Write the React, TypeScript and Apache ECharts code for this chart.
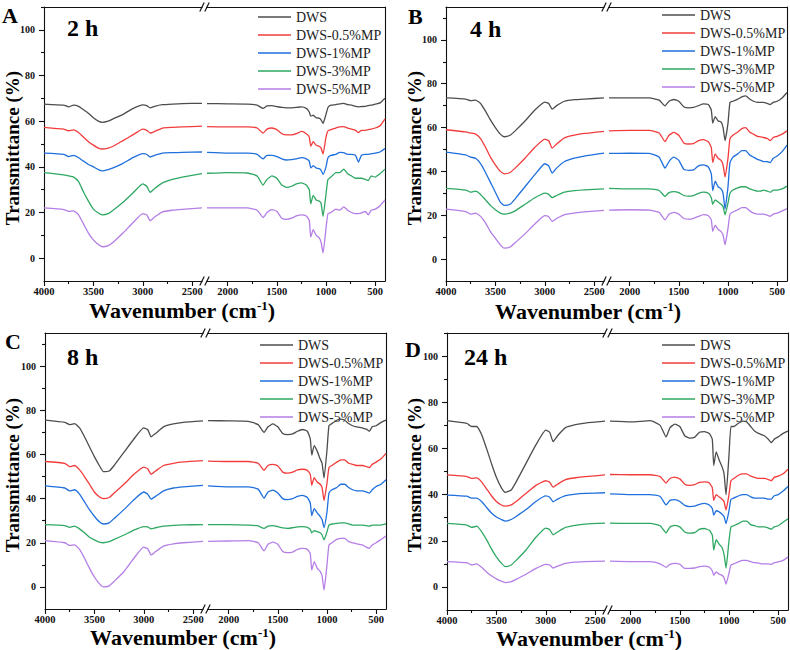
import React, { useEffect, useRef } from 'react';
import * as echarts from 'echarts';

// Wavenumbers (cm-1) sampled on each side of the axis break
const WN_LEFT = [4000, 3800, 3750, 3700, 3650, 3600, 3550, 3500, 3450, 3410, 3350, 3300, 3200, 3100, 3000, 2960, 2925, 2880, 2800, 2700, 2600, 2400];
const WN_RIGHT = [2210, 2000, 1800, 1700, 1640, 1600, 1550, 1500, 1450, 1400, 1350, 1300, 1250, 1200, 1170, 1155, 1130, 1100, 1070, 1050, 1030, 1000, 980, 950, 900, 860, 820, 780, 740, 700, 670, 640, 600, 570, 540, 500, 450, 400];

const SERIES_NAMES = ['DWS', 'DWS-0.5%MP', 'DWS-1%MP', 'DWS-3%MP', 'DWS-5%MP'];
const SERIES_COLORS = ['#4d4d4d', '#f23c3c', '#1f6fdc', '#2ea862', '#b47ee6'];
const PANEL_LETTERS = ['A', 'B', 'C', 'D'];
const PANEL_TIMES = ['2 h', '4 h', '8 h', '24 h'];

const X_TICKS_LEFT = [4000, 3500, 3000, 2500];
const X_MINOR_LEFT = [3750, 3250, 2750];
const X_TICKS_RIGHT = [2000, 1500, 1000, 500];
const X_MINOR_RIGHT = [1750, 1250, 750];
const Y_TICKS = [0, 20, 40, 60, 80, 100];
const Y_MINOR = [10, 30, 50, 70, 90, 110];

// Panel A: 2 h
const A_LEFT = [
  [67.5, 67, 66.3, 67, 66.5, 65, 63.5, 61.5, 60, 59.5, 60, 61, 63, 65.5, 67.1, 66.8, 65.8, 66.5, 67.2, 67.5, 67.7, 67.8],
  [57.3, 56.5, 55.8, 56.2, 55, 53, 51, 49.5, 48.2, 47.8, 48.2, 49, 51.5, 54, 56.5, 56, 54.8, 55.5, 57, 57.3, 57.5, 57.8],
  [46, 45.5, 44.5, 45, 44, 42.5, 41, 40, 38.8, 38.2, 38.8, 39.5, 41.5, 44, 45.8, 45.5, 44.3, 45, 46, 46.2, 46.3, 46.5],
  [37.5, 36.5, 36, 35.5, 33.5, 29, 25, 21.5, 19.8, 19, 19.5, 21, 24.5, 28.5, 32.5, 31.5, 28.8, 30.5, 33, 34.5, 35.5, 37],
  [22, 21.3, 20.5, 20.7, 19, 15, 11, 8, 6, 5, 5.5, 7, 11, 15.5, 19.5, 19, 16.4, 18, 20.3, 21, 21.4, 22],
];
const A_RIGHT = [
  [67.7, 67.6, 67.5, 67, 65.6, 66.7, 66.8, 66.4, 66, 65.8, 65.8, 66, 66.3, 65.6, 64, 62.2, 62.6, 61.5, 61.3, 60.6, 59, 63, 66, 67, 67.2, 67.6, 67.8, 67.2, 67, 66.5, 66.3, 66.4, 66.5, 66.8, 67, 67.5, 68, 70],
  [57.6, 57.5, 57.5, 57, 54.8, 56.5, 57, 56.3, 54.5, 54, 54, 54.5, 55.5, 54.5, 53, 49, 51, 49.5, 49, 48.2, 45.6, 53, 55.8, 56.3, 57, 57.5, 57.6, 57, 56.5, 56, 55, 56, 56, 56.3, 56.5, 57, 58, 61],
  [46.3, 46, 46, 45.5, 43.5, 45, 45, 44.5, 43.5, 43, 43.2, 43.5, 44, 43.5, 42.5, 39.5, 40.5, 39.5, 39.2, 38.5, 36.7, 40, 44, 45, 45.5, 46.3, 46.2, 45.5, 45.5, 45, 42.1, 45, 45.5, 45.5, 45.7, 46, 46.5, 48],
  [37.2, 37.5, 37.3, 36, 32, 34.5, 36, 35, 32, 31, 31.5, 32.5, 33, 32, 30, 23.8, 27.5, 25.5, 25, 24, 18.3, 28, 34.5, 35.5, 37.5, 37.5, 39, 37, 36, 35, 35, 35, 34.5, 34, 36, 35.5, 37, 39],
  [22, 22, 22, 21, 17.8, 20, 21.3, 20.5, 17.5, 17, 17.5, 18.5, 19, 18.5, 16.5, 9.2, 12.5, 10, 9, 7, 2.2, 13, 19.5, 20, 21.5, 21, 22.5, 21, 20, 19.5, 19.5, 19.8, 20.5, 19, 21, 21.5, 23, 25.5],
];

// Panel B: 4 h
const B_LEFT = [
  [73.5, 73, 72.3, 72.5, 71, 67.5, 63.5, 60, 57, 55.8, 56.5, 58.5, 63, 68, 71.6, 71, 68.4, 70, 72, 72.7, 73, 73.5],
  [59, 58, 57.5, 57, 55, 51, 46.5, 43, 40, 38.9, 39.5, 41.5, 46, 51, 54.7, 54, 50.6, 52.5, 55.3, 56.5, 57.3, 58.3],
  [48.8, 47.5, 46.5, 46, 43.5, 39.5, 35, 30.5, 26, 24.5, 25, 27.5, 33, 38.5, 43.5, 42.5, 39.2, 41.5, 44.5, 46, 47, 48.3],
  [32.3, 31.5, 30.5, 31, 29.5, 27, 24.5, 22.5, 21, 20.5, 21, 22, 25, 28, 30.1, 29.5, 28, 29, 30.5, 31.2, 31.6, 32],
  [22.8, 21.7, 20.5, 21, 19.5, 16.5, 12.5, 9.5, 6.5, 5, 5.5, 7.5, 11.5, 16, 19.8, 19.3, 17.2, 18.5, 20.3, 21, 21.5, 22.2],
];
const B_RIGHT = [
  [73.5, 73.5, 73.5, 72.5, 69.9, 72, 72.8, 72, 69.5, 69, 69.2, 70, 70.8, 70.5, 68, 62, 65, 63, 62.5, 60, 54, 62, 71.5, 72, 73, 74, 74.5, 73, 72, 71.5, 71.5, 71.5, 71, 70.5, 71.5, 72, 73.5, 76],
  [58.5, 58.7, 58.7, 57.5, 53.6, 56.5, 57.8, 56.5, 53, 52.5, 52.7, 54, 54.5, 53.5, 51, 44, 48, 46, 45, 43, 37.4, 46, 55, 56.5, 58, 59.5, 60, 58, 57, 56, 55.8, 55.5, 55, 54, 55.5, 56, 57, 58.5],
  [48.2, 48.3, 48.2, 46.5, 41.5, 44.5, 46.5, 45, 41, 40.5, 40.7, 42.5, 43, 42, 39, 31.2, 35.5, 33, 32, 30, 22.8, 33, 44, 46.5, 48, 49.5, 49.5, 47.5, 46.5, 45.5, 45, 44.5, 44.5, 44, 46, 47, 49, 52],
  [32.3, 32, 32, 31.3, 28.6, 30.3, 30.8, 30.3, 29, 28.7, 29, 30, 30.5, 30, 28, 25, 27, 26, 25, 24, 20.2, 25.5, 30, 31.5, 32.5, 33, 33, 32, 31.5, 31, 31, 31.5, 31, 30.5, 31.5, 31.5, 32, 33.3],
  [22.3, 22.5, 22.3, 21.3, 17.9, 20.5, 21.3, 20.5, 18.5, 18.2, 18.6, 19.5, 20.3, 19.8, 18, 12.6, 15.5, 13.5, 12.5, 11, 6.5, 14, 20.5, 21.5, 22.5, 23.5, 23.5, 22, 21, 20.5, 20.5, 20.5, 20, 19.5, 20.5, 21, 22, 23],
];

// Panel C: 8 h
const C_LEFT = [
  [75.5, 74.5, 73.5, 74, 72, 68, 63.5, 59, 55, 52.2, 52.5, 55, 61, 67, 72, 71.3, 68, 69.5, 72.5, 73.8, 74.5, 75.2],
  [56.8, 56, 54.5, 55, 53, 50, 46.5, 43, 40.8, 40, 40.5, 42.5, 46.5, 51, 54.3, 53.5, 51, 52.5, 55, 56, 56.6, 57.2],
  [45.8, 44.8, 43.5, 44, 42, 38.5, 35, 32, 29.5, 28.5, 29, 31, 35, 39.5, 43, 42, 39.8, 41, 43.5, 44.8, 45.3, 46],
  [28.2, 27.8, 27, 27.5, 26.3, 24.5, 22.5, 21.3, 20.3, 20, 20.5, 21.5, 23.5, 25.7, 27.3, 27.2, 26.3, 26.8, 27.5, 27.9, 28.1, 28.2],
  [21, 20, 18.8, 19, 17, 13, 8.5, 4.5, 1.5, 0, 0.5, 2.5, 7, 13, 18, 17.3, 14.5, 16, 18.5, 19.5, 20, 20.6],
];
const C_RIGHT = [
  [75.3, 75.2, 75, 73.5, 70, 72.5, 73.8, 72.5, 69.5, 69, 69.3, 70.5, 71.3, 70.5, 67, 59.7, 64, 61.5, 58, 56, 49.3, 62, 73, 74, 75.5, 76, 75.5, 74, 73, 72.5, 72.3, 72, 71.5, 70.5, 72.5, 73, 74.5, 75.5],
  [57, 56.8, 56.8, 56, 52.8, 55, 55.5, 54.8, 52, 51.5, 52, 53, 53.3, 52.8, 51, 46, 49.5, 47.5, 46.5, 45, 39.1, 47, 54, 55, 56.5, 57.5, 57.5, 56, 55.5, 55, 55, 55, 54.5, 54, 55.5, 56.5, 58, 60.5],
  [45.8, 45.3, 45.3, 44.3, 40.2, 43, 43.8, 42.5, 40, 39.5, 40, 41, 41.5, 40.5, 38, 32.3, 35.5, 33.5, 32, 30.5, 26.9, 34, 42.5, 44, 45, 46.5, 46.5, 45, 44, 43.5, 43.5, 43.5, 43, 42.5, 44, 45.5, 46.5, 48.5],
  [28.2, 28.2, 28, 27.6, 26.5, 27.5, 27.8, 27.3, 26.7, 26.5, 26.8, 27.2, 27.3, 27, 26, 24.5, 25.5, 25, 24.5, 23.5, 21.3, 25, 28, 28.5, 28.8, 29, 29, 28.5, 28, 28, 28, 28, 27.8, 27.5, 28, 28, 28, 28.5],
  [20.6, 20.8, 21, 20, 16.3, 19.3, 20.3, 19.3, 16, 15.5, 15.8, 17, 17.5, 17, 15, 7.6, 11.5, 8.5, 7, 5, -1.5, 10, 19, 20, 21.5, 22, 22, 20.5, 20, 19.5, 19.3, 19, 18, 17.5, 19, 20, 21.5, 23],
];

// Panel D: 24 h
const D_LEFT = [
  [72, 70.8, 69.5, 69.5, 66, 60, 53.5, 47.5, 43, 41, 42, 45.5, 53.5, 61.5, 67.9, 67, 62.9, 65.5, 69, 70.3, 71, 71.8],
  [48.5, 47.8, 47, 47.2, 45.5, 42.5, 39.5, 37, 35.5, 35, 35.5, 37, 40.5, 44, 46, 45.3, 43.2, 44.5, 46.5, 47.3, 47.8, 48.5],
  [39.8, 39.3, 38.5, 38.5, 37, 34.5, 32, 30.3, 29.2, 28.5, 29.2, 30.5, 33.5, 37, 39.4, 38.8, 36.9, 38, 39.5, 40.2, 40.5, 40.8],
  [27.5, 26.8, 25.8, 26.3, 24, 20.5, 16.5, 13, 10.3, 8.8, 9.5, 11.5, 16, 21.5, 25.5, 24.8, 22.6, 23.8, 25.8, 26.7, 27.2, 27.6],
  [11, 10.5, 9.5, 10, 8.5, 6.5, 4.8, 3.5, 2.5, 1.9, 2.3, 3.3, 5.5, 8, 9.8, 9.5, 8.2, 9, 10.2, 10.7, 11, 11.2],
];
const D_RIGHT = [
  [71.8, 71.5, 72, 70, 65, 69, 70.5, 69.5, 65.5, 64.5, 64.8, 67, 67.3, 66.5, 64, 52.6, 58.5, 55, 52, 49, 39.9, 57, 69.5, 69.5, 71, 71.8, 71.5, 69.5, 67.5, 66.5, 66, 65.5, 64, 62.5, 64, 65, 66.5, 67.5],
  [48.7, 48.6, 48.6, 47.8, 45, 47, 47.6, 46.8, 44.5, 44, 44.3, 45.3, 45.5, 45, 43, 37.5, 40, 39, 38, 37, 33.3, 40, 46, 47, 48.5, 49, 49, 48, 47.5, 47, 47, 47, 46.5, 46, 47.5, 48, 49, 51],
  [40.3, 40, 40, 39.2, 35.5, 37.5, 37.8, 37, 35.3, 34.8, 35, 35.8, 36.2, 35.5, 34, 31.1, 33, 32.5, 31.5, 30.5, 27.4, 33, 38, 38.5, 39.5, 40, 40, 39, 38.5, 38.5, 38.5, 38.5, 38, 38, 39.5, 40, 41.5, 43.5],
  [27.6, 27.5, 27.5, 26.5, 23.4, 26, 26.7, 26, 23.8, 23.3, 23.5, 25, 25.3, 24.5, 22.5, 16, 20.5, 18.5, 17, 14, 8.2, 20, 26, 26.5, 27.5, 28.5, 28.5, 27, 26.5, 26, 26, 26, 25.5, 25, 26, 26.5, 28, 29.5],
  [11.2, 11, 11, 10, 8.5, 9.8, 10.2, 9.8, 8, 8, 8.2, 8.8, 9, 8.5, 7, 5, 6.5, 5.5, 5, 4, 1.2, 6, 9.5, 10, 11, 11.5, 11.5, 11, 10.5, 10.3, 10, 10, 10, 9.8, 10.5, 10.8, 11.5, 13],
];

const PANEL_DATA = [
  [A_LEFT, A_RIGHT],
  [B_LEFT, B_RIGHT],
  [C_LEFT, C_RIGHT],
  [D_LEFT, D_RIGHT],
];
const Y_MAX = [110, 115, 115, 110];

// Layout (pixels)
const LW = 158;
const GAP = 5;
const RW = 178;
const LAYOUT = [
  { x: 44, top: 7, h: 274, legX: 258, legY: 10, letX: 2, letY: 15, timeX: 67, timeY: 28, xtX: 182, xtY: 310, ytX: 12, ytY: 148 },
  { x: 446, top: 7, h: 274, legX: 662, legY: 8, letX: 408, letY: 16, timeX: 470, timeY: 29, xtX: 588, xtY: 311, ytX: 414, ytY: 148 },
  { x: 45, top: 333, h: 276, legX: 260, legY: 338, letX: 5, letY: 341, timeX: 67, timeY: 357, xtX: 183, xtY: 637, ytX: 12, ytY: 475 },
  { x: 447, top: 333, h: 277, legX: 662, legY: 338, letX: 405, letY: 349, timeX: 464, timeY: 357, xtX: 589, xtY: 638, ytX: 414, ytY: 475 },
];

const FONT = '"Liberation Serif", "Times New Roman", serif';
const AXIS_COLOR = '#111';
const LEGEND_ICON = 'path://M0,0H33V1.4H0Z';

export default function App() {
  const ref = useRef<HTMLDivElement>(null);
  useEffect(() => {
    const chart = echarts.init(ref.current!, null, { renderer: 'svg' });
    const grid: any[] = [];
    const xAxis: any[] = [];
    const yAxis: any[] = [];
    const series: any[] = [];
    const legend: any[] = [];
    const graphic: any[] = [];

    const lineStyle = { color: AXIS_COLOR, width: 1.1 };
    const tickLabel = { color: '#111', fontFamily: FONT, fontWeight: 'bold', fontSize: 10.5, formatter: (v: number) => String(v) };

    LAYOUT.forEach((p, pi) => {
      const ymax = Y_MAX[pi];
      const gL = grid.length;
      grid.push({ left: p.x, top: p.top, width: LW, height: p.h, outerBoundsMode: 'none' });
      const gR = grid.length;
      grid.push({ left: p.x + LW + GAP, top: p.top, width: RW, height: p.h, outerBoundsMode: 'none' });

      const mkX = (g: number, min: number, max: number, ticks: number[], minor: number[]) => {
        const main = xAxis.length;
        xAxis.push({
          type: 'value', gridIndex: g, position: 'bottom', min, max, inverse: true,
          axisLine: { show: true, onZero: false, lineStyle },
          axisTick: { show: true, customValues: ticks, length: 5, lineStyle },
          axisLabel: { show: true, customValues: ticks, margin: 5, ...tickLabel },
          splitLine: { show: false },
        });
        xAxis.push({
          type: 'value', gridIndex: g, position: 'bottom', min, max, inverse: true,
          axisLine: { show: false, onZero: false },
          axisTick: { show: true, customValues: minor, length: 3, lineStyle },
          axisLabel: { show: false },
          splitLine: { show: false },
        });
        xAxis.push({
          type: 'value', gridIndex: g, position: 'top', min, max, inverse: true,
          axisLine: { show: true, onZero: false, lineStyle },
          axisTick: { show: false }, axisLabel: { show: false }, splitLine: { show: false },
        });
        return main;
      };
      const xL = mkX(gL, 2400, 4000, X_TICKS_LEFT, X_MINOR_LEFT);
      const xR = mkX(gR, 400, 2210, X_TICKS_RIGHT, X_MINOR_RIGHT);

      const yL = yAxis.length;
      yAxis.push({
        type: 'value', gridIndex: gL, position: 'left', min: -10, max: ymax,
        axisLine: { show: true, onZero: false, lineStyle },
        axisTick: { show: true, customValues: Y_TICKS, length: 5, lineStyle },
        axisLabel: { show: true, customValues: Y_TICKS, margin: 9, ...tickLabel, fontSize: 10 },
        splitLine: { show: false },
      });
      yAxis.push({
        type: 'value', gridIndex: gL, position: 'left', min: -10, max: ymax,
        axisLine: { show: false, onZero: false },
        axisTick: { show: true, customValues: Y_MINOR.filter((v) => v <= ymax), length: 3, lineStyle },
        axisLabel: { show: false }, splitLine: { show: false },
      });
      const yR = yAxis.length;
      yAxis.push({
        type: 'value', gridIndex: gR, position: 'right', min: -10, max: ymax,
        axisLine: { show: true, onZero: false, lineStyle },
        axisTick: { show: false }, axisLabel: { show: false }, splitLine: { show: false },
      });

      const [leftVals, rightVals] = PANEL_DATA[pi];
      SERIES_NAMES.forEach((name, si) => {
        const common = {
          type: 'line', name, symbol: 'none', smooth: 0.15, silent: true,
          color: SERIES_COLORS[si],
          itemStyle: { color: SERIES_COLORS[si] },
          lineStyle: { color: SERIES_COLORS[si], width: 1.3 },
          z: 10 - si,
        };
        series.push({ ...common, xAxisIndex: xL, yAxisIndex: yL, data: WN_LEFT.map((w, i) => [w, leftVals[si][i]]) });
        series.push({ ...common, xAxisIndex: xR, yAxisIndex: yR, data: WN_RIGHT.map((w, i) => [w, rightVals[si][i]]) });
      });

      legend.push({
        data: SERIES_NAMES.map((n) => ({ name: n, icon: LEGEND_ICON })),
        orient: 'vertical', left: p.legX, top: p.legY, padding: 0,
        itemWidth: 33, itemHeight: 14, itemGap: 4, selectedMode: false,
        textStyle: { fontFamily: FONT, fontSize: 14, color: '#222' },
      });

      // panel letter and time label
      graphic.push({
        type: 'text', x: p.letX, y: p.letY,
        style: { text: PANEL_LETTERS[pi], font: `bold 22px ${FONT}`, fill: '#000', align: 'left', verticalAlign: 'middle' },
      });
      graphic.push({
        type: 'text', x: p.timeX, y: p.timeY,
        style: { text: PANEL_TIMES[pi], font: `bold 24px ${FONT}`, fill: '#000', align: 'left', verticalAlign: 'middle' },
      });
      // axis titles
      graphic.push({
        type: 'text', x: p.ytX, y: p.ytY, rotation: Math.PI / 2,
        style: { text: 'Transmittance (%)', font: `bold 19px ${FONT}`, fill: '#000', align: 'center', verticalAlign: 'middle' },
      });
      graphic.push({
        type: 'text', x: p.xtX, y: p.xtY,
        style: {
          text: '{a|Wavenumber (cm}{s|-1}{a|)}', align: 'center', verticalAlign: 'middle',
          rich: {
            a: { fontFamily: FONT, fontWeight: 'bold', fontSize: 22, fill: '#000', color: '#000' },
            s: { fontFamily: FONT, fontWeight: 'bold', fontSize: 13, fill: '#000', color: '#000', verticalAlign: 'top', padding: [0, 0, 8, 0] },
          },
        },
      });
      // break marks (//) on top and bottom axes
      const b1 = p.x + LW;
      const b2 = p.x + LW + GAP;
      [p.top, p.top + p.h].forEach((yy) => {
        [b1, b2].forEach((bx) => {
          graphic.push({
            type: 'line',
            shape: { x1: bx - 2.2, y1: yy + 4.5, x2: bx + 2.2, y2: yy - 4.5 },
            style: { stroke: AXIS_COLOR, lineWidth: 1.2 },
          });
        });
      });
    });

    chart.setOption({
      animation: false,
      backgroundColor: '#fff',
      grid, xAxis, yAxis, series, legend, graphic,
    });
    return () => chart.dispose();
  }, []);
  return <div ref={ref} style={{ position: 'absolute', left: 0, top: 0, width: 790, height: 650 }} />;
}
